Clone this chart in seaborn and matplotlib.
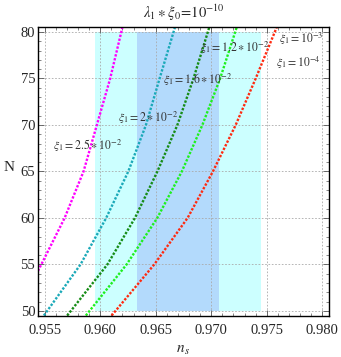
import numpy as np
import pandas as pd
import matplotlib
matplotlib.use('Agg')
import matplotlib.pyplot as plt
import seaborn as sns
from matplotlib.ticker import MultipleLocator

# e-folds read at gridlines (first/last = frame edges)
N_VALUES = [49.5, 55, 60, 65, 70, 75, 80.5]

NS_MAGENTA = [0.9544, 0.9547, 0.9568, 0.9585, 0.9597, 0.9609, 0.9620]
N_MAGENTA = [54.3, 55, 60, 65, 70, 75, 80.5]
NS_TEAL = [0.95493, 0.95823, 0.96054, 0.96253, 0.96412, 0.96535, 0.96673]
NS_DKGREEN = [0.95703, 0.96065, 0.96313, 0.96515, 0.96695, 0.96840, 0.96982]
NS_LIME = [0.95871, 0.96238, 0.96514, 0.96735, 0.96920, 0.97080, 0.97229]
NS_RED = [0.96103, 0.96487, 0.96787, 0.97015, 0.97220, 0.97400, 0.97589]

CURVES = ["2.5e-2", "2e-2", "1.6e-2", "1.2e-2", "1e-3/1e-4"]
COLORS = ["#ff00ff", "#1aa9b8", "#168c16", "#1ef01e", "#ff2a10"]

# observational bands (n_s ranges), N from 50 to 80
BAND_WIDE = (0.95955, 0.97447)
BAND_NARROW = (0.96331, 0.97069)
BAND_N = (50, 80)

LABELS = [
    (r"$\xi_1=10^{-3}$", 0.97608, 79.3),
    (r"$\xi_1=10^{-4}$", 0.97583, 76.7),
    (r"$\xi_1=1.2\ast10^{-2}$", 0.96898, 78.3),
    (r"$\xi_1=1.6\ast10^{-2}$", 0.96565, 74.8),
    (r"$\xi_1=2\ast10^{-2}$", 0.96159, 70.8),
    (r"$\xi_1=2.5\ast10^{-2}$", 0.95574, 67.8),
]

frames = [pd.DataFrame({"ns": NS_MAGENTA, "N": N_MAGENTA, "curve": CURVES[0]})]
for name, ns in zip(CURVES[1:], [NS_TEAL, NS_DKGREEN, NS_LIME, NS_RED]):
    frames.append(pd.DataFrame({"ns": ns, "N": N_VALUES, "curve": name}))
df = pd.concat(frames, ignore_index=True)

sns.set_style("ticks")
plt.rcParams['font.family'] = ['Liberation Serif', 'DejaVu Serif']
plt.rcParams['mathtext.fontset'] = 'stix'

fig = plt.figure(figsize=(3.41, 3.57), dpi=100)
ax = fig.add_axes([0.1114, 0.1148, 0.8534, 0.8104])

ax.fill_between(BAND_WIDE, BAND_N[0], BAND_N[1], color="#ccffff", lw=0, zorder=0.5)
ax.fill_between(BAND_NARROW, BAND_N[0], BAND_N[1], color="#b3dafc", lw=0, zorder=0.6)

sns.lineplot(data=df, x="ns", y="N", hue="curve", style="curve",
             palette=dict(zip(CURVES, COLORS)),
             dashes={c: (1, 0.7) for c in CURVES},
             estimator=None, sort=False, legend=False, lw=1.7, ax=ax)

for text, x, y in LABELS:
    ax.text(x, y, text, fontsize=8.5, color="#333333", va="center", zorder=3)

ax.set_xlim(0.9544, 0.9806)
ax.set_ylim(49.45, 80.57)
ax.xaxis.set_major_locator(MultipleLocator(0.005))
ax.xaxis.set_minor_locator(MultipleLocator(0.001))
ax.yaxis.set_major_locator(MultipleLocator(5))
ax.yaxis.set_minor_locator(MultipleLocator(1))
ax.xaxis.set_major_formatter(matplotlib.ticker.FormatStrFormatter('%.3f'))
ax.tick_params(which="both", direction="in", top=True, right=True,
               labelsize=10.5, color="#555555")
ax.tick_params(which="major", length=4.5, width=0.6)
ax.tick_params(which="minor", length=2.5, width=0.5)
ax.tick_params(axis="x", pad=6)
ax.tick_params(axis="y", pad=2)

ax.set_axisbelow('line')
ax.grid(True, which="major", color="#aaaaaa", linestyle=(0, (2, 2)), lw=0.6)
for s in ax.spines.values():
    s.set_linewidth(1.0)
    s.set_color("black")

ax.set_xlabel(r"$n_{\,s}$", fontsize=11, labelpad=5)
ax.set_ylabel("N", fontsize=11, rotation=0, labelpad=6)
ax.yaxis.set_label_coords(-0.1, 0.49)
ax.set_title(r"$\lambda_1\ast\xi_0\!=\!10^{-10}$", fontsize=10.5, pad=6)

fig.savefig("out.png", dpi=100)
